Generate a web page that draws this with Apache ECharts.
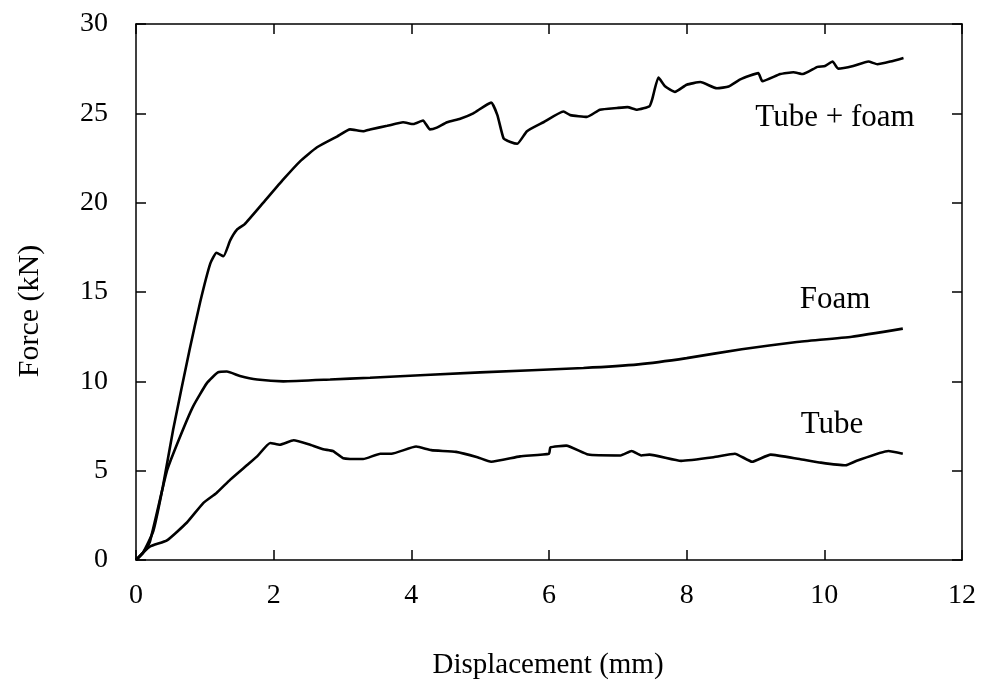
<!DOCTYPE html>
<html>
<head>
<meta charset="utf-8">
<script src="https://cdn.jsdelivr.net/npm/echarts@6/dist/echarts.min.js"></script>
<style>
  html, body { margin: 0; padding: 0; background: #fff; }
  #chart { width: 981px; height: 681px; }
</style>
</head>
<body>
<div id="chart"></div>
<script>
  // displacement (mm), force (kN)
  var tubeFoamX = [0, 0.1, 0.25, 0.39, 0.54, 0.78, 0.93, 1.08, 1.17, 1.27, 1.37, 1.47, 1.58, 1.85, 2.14, 2.38, 2.63, 2.92, 3.11, 3.30, 3.40, 3.65, 3.88, 4.03, 4.17, 4.27, 4.37, 4.52, 4.71, 4.90, 5.16, 5.25, 5.34, 5.44, 5.54, 5.68, 5.92, 6.21, 6.31, 6.55, 6.74, 6.99, 7.14, 7.28, 7.46, 7.50, 7.59, 7.69, 7.83, 8.00, 8.20, 8.44, 8.61, 8.78, 9.04, 9.10, 9.36, 9.55, 9.69, 9.90, 10.01, 10.12, 10.20, 10.42, 10.64, 10.77, 10.96, 11.15];
  var tubeFoamY = [0, 0.4, 1.6, 4.1, 7.3, 11.8, 14.4, 16.6, 17.2, 17.0, 17.9, 18.5, 18.8, 20.0, 21.3, 22.3, 23.1, 23.7, 24.1, 24.0, 24.1, 24.3, 24.5, 24.4, 24.6, 24.1, 24.2, 24.5, 24.7, 25.0, 25.6, 24.9, 23.6, 23.4, 23.3, 24.0, 24.5, 25.1, 24.9, 24.8, 25.2, 25.3, 25.35, 25.2, 25.4, 25.8, 27.0, 26.5, 26.2, 26.6, 26.75, 26.4, 26.5, 26.9, 27.25, 26.8, 27.2, 27.3, 27.2, 27.6, 27.65, 27.9, 27.5, 27.65, 27.9, 27.75, 27.9, 28.1];

  var foamX = [0, 0.1, 0.2, 0.45, 0.64, 0.83, 1.03, 1.19, 1.32, 1.51, 1.76, 2.14, 2.82, 3.40, 5.0, 6.5, 7.3, 8.0, 8.8, 9.6, 10.4, 11.14];
  var foamY = [0, 0.4, 1.0, 5.0, 6.9, 8.6, 9.9, 10.5, 10.55, 10.3, 10.1, 10.0, 10.1, 10.2, 10.5, 10.75, 10.95, 11.3, 11.8, 12.2, 12.5, 12.95];

  var tubeX = [0, 0.2, 0.45, 0.74, 0.98, 1.17, 1.37, 1.61, 1.76, 1.95, 2.09, 2.29, 2.53, 2.72, 2.86, 3.01, 3.30, 3.55, 3.71, 4.07, 4.29, 4.65, 4.96, 5.16, 5.58, 6.00, 6.02, 6.25, 6.57, 7.04, 7.20, 7.34, 7.46, 7.92, 8.39, 8.70, 8.95, 9.22, 9.64, 9.95, 10.31, 10.47, 10.93, 11.14];
  var tubeY = [0, 0.75, 1.1, 2.1, 3.2, 3.75, 4.5, 5.3, 5.8, 6.55, 6.45, 6.7, 6.45, 6.2, 6.1, 5.7, 5.65, 5.95, 5.95, 6.35, 6.15, 6.05, 5.75, 5.5, 5.8, 5.95, 6.3, 6.4, 5.9, 5.85, 6.1, 5.85, 5.9, 5.55, 5.75, 5.95, 5.5, 5.9, 5.65, 5.45, 5.3, 5.55, 6.1, 5.95];

  var xTicks = [0, 2, 4, 6, 8, 10, 12];
  var yTicks = [0, 5, 10, 15, 20, 25, 30];

  var font = '"Liberation Serif", "Times New Roman", serif';

  function pairs(xs, ys) {
    return xs.map(function (x, i) { return [x, ys[i]]; });
  }

  function curve(name, xs, ys) {
    return {
      name: name,
      type: 'line',
      xAxisIndex: 0,
      yAxisIndex: 0,
      data: pairs(xs, ys),
      showSymbol: false,
      smooth: 0.15,
      lineStyle: { color: '#000', width: 2.6 },
      z: 3
    };
  }

  var axisBase = {
    type: 'value',
    min: 0,
    splitLine: { show: false },
    axisLine: { show: true, onZero: false, lineStyle: { color: '#000', width: 1.5 } },
    axisTick: { show: true, inside: true, length: 10, lineStyle: { color: '#000', width: 1.5 } }
  };

  var chart = echarts.init(document.getElementById('chart'));
  chart.setOption({
    animation: false,
    backgroundColor: '#fff',
    grid: { left: 136, right: 19, top: 24, bottom: 121, containLabel: false },
    xAxis: [
      Object.assign({}, axisBase, {
        position: 'bottom',
        max: xTicks[xTicks.length - 1],
        interval: 2,
        axisLabel: { color: '#000', fontFamily: font, fontSize: 28, margin: 22 }
      }),
      Object.assign({}, axisBase, {
        position: 'top',
        max: xTicks[xTicks.length - 1],
        interval: 2,
        axisLabel: { show: false }
      })
    ],
    yAxis: [
      Object.assign({}, axisBase, {
        position: 'left',
        max: yTicks[yTicks.length - 1],
        interval: 5,
        axisLabel: { color: '#000', fontFamily: font, fontSize: 28, margin: 28 }
      }),
      Object.assign({}, axisBase, {
        position: 'right',
        max: yTicks[yTicks.length - 1],
        interval: 5,
        axisLabel: { show: false }
      })
    ],
    graphic: [
      { type: 'text', left: 'center', top: 0, style: { text: '' } },
      {
        type: 'text', x: 548, y: 665,
        style: { text: 'Displacement (mm)', fontFamily: font, fontSize: 29, fill: '#000', align: 'center', verticalAlign: 'middle' }
      },
      {
        type: 'text', x: 30, y: 311, rotation: Math.PI / 2,
        style: { text: 'Force (kN)', fontFamily: font, fontSize: 30, fill: '#000', align: 'center', verticalAlign: 'middle' }
      },
      {
        type: 'text', x: 835, y: 118,
        style: { text: 'Tube + foam', fontFamily: font, fontSize: 31, fill: '#000', align: 'center', verticalAlign: 'middle' }
      },
      {
        type: 'text', x: 835, y: 300,
        style: { text: 'Foam', fontFamily: font, fontSize: 31, fill: '#000', align: 'center', verticalAlign: 'middle' }
      },
      {
        type: 'text', x: 832, y: 425,
        style: { text: 'Tube', fontFamily: font, fontSize: 31, fill: '#000', align: 'center', verticalAlign: 'middle' }
      }
    ],
    series: [
      curve('Tube + foam', tubeFoamX, tubeFoamY),
      curve('Foam', foamX, foamY),
      curve('Tube', tubeX, tubeY)
    ]
  });
</script>
</body>
</html>
